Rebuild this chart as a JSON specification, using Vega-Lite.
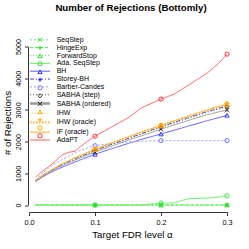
{
"$schema": "https://vega.github.io/schema/vega-lite/v6.json",
"width": 198, "height": 158.5,
"autosize": {"type": "none"},
"padding": {"left": 29, "top": 46.5, "right": 22, "bottom": 44},
"config": {
  "font": "Liberation Sans",
  "view": {"stroke": null},
  "axis": {"grid": false, "domainColor": "#333", "tickColor": "#333", "tickSize": 3.5, "labelFontSize": 7.3, "labelColor": "black", "labelFont": "Liberation Sans", "titleFont": "Liberation Sans", "titleFontSize": 9.7, "titleFontWeight": "normal", "titleColor": "black"},
  "legend": {"labelFont": "Liberation Sans", "labelColor": "black", "labelFontSize": 7, "padding": 0}
},
"title": {"text": "Number of Rejections (Bottomly)", "font": "Liberation Sans", "fontSize": 9.7, "fontWeight": "bold", "color": "black", "anchor": "middle", "frame": "group", "baseline": "alphabetic", "offset": 15.5, "dx": 3},
"data": {"values": [
{"a":0.01,"m":"SeqStep","v":0},{"a":0.1,"m":"SeqStep","v":0},{"a":0.2,"m":"SeqStep","v":0},{"a":0.3,"m":"SeqStep","v":0},
{"a":0.01,"m":"HingeExp","v":0},{"a":0.1,"m":"HingeExp","v":0},{"a":0.2,"m":"HingeExp","v":0},{"a":0.3,"m":"HingeExp","v":0},
{"a":0.01,"m":"ForwardStop","v":0},{"a":0.1,"m":"ForwardStop","v":0},{"a":0.2,"m":"ForwardStop","v":0},{"a":0.3,"m":"ForwardStop","v":0},
{"a":0.01,"m":"Ada. SeqStep","v":0},{"a":0.1,"m":"Ada. SeqStep","v":0},{"a":0.17,"m":"Ada. SeqStep","v":0},{"a":0.2,"m":"Ada. SeqStep","v":60},{"a":0.22,"m":"Ada. SeqStep","v":65},{"a":0.24,"m":"Ada. SeqStep","v":195},{"a":0.27,"m":"Ada. SeqStep","v":220},{"a":0.29,"m":"Ada. SeqStep","v":255},{"a":0.3,"m":"Ada. SeqStep","v":290},
{"a":0.01,"m":"BH","v":740},{"a":0.02,"m":"BH","v":880},{"a":0.03,"m":"BH","v":995},{"a":0.04,"m":"BH","v":1100},{"a":0.05,"m":"BH","v":1190},{"a":0.06,"m":"BH","v":1275},{"a":0.07,"m":"BH","v":1360},{"a":0.08,"m":"BH","v":1440},{"a":0.1,"m":"BH","v":1600},{"a":0.12,"m":"BH","v":1740},{"a":0.15,"m":"BH","v":1940},{"a":0.17,"m":"BH","v":2070},{"a":0.2,"m":"BH","v":2240},{"a":0.22,"m":"BH","v":2360},{"a":0.24,"m":"BH","v":2480},{"a":0.27,"m":"BH","v":2660},{"a":0.29,"m":"BH","v":2770},{"a":0.3,"m":"BH","v":2830},
{"a":0.01,"m":"Storey-BH","v":765},{"a":0.02,"m":"Storey-BH","v":915},{"a":0.03,"m":"Storey-BH","v":1045},{"a":0.04,"m":"Storey-BH","v":1165},{"a":0.05,"m":"Storey-BH","v":1270},{"a":0.06,"m":"Storey-BH","v":1365},{"a":0.07,"m":"Storey-BH","v":1460},{"a":0.08,"m":"Storey-BH","v":1545},{"a":0.1,"m":"Storey-BH","v":1720},{"a":0.12,"m":"Storey-BH","v":1880},{"a":0.15,"m":"Storey-BH","v":2100},{"a":0.17,"m":"Storey-BH","v":2250},{"a":0.2,"m":"Storey-BH","v":2470},{"a":0.22,"m":"Storey-BH","v":2610},{"a":0.24,"m":"Storey-BH","v":2750},{"a":0.27,"m":"Storey-BH","v":2950},{"a":0.29,"m":"Storey-BH","v":3070},{"a":0.3,"m":"Storey-BH","v":3120},
{"a":0.01,"m":"Barber-Candes","v":790},{"a":0.02,"m":"Barber-Candes","v":1000},{"a":0.03,"m":"Barber-Candes","v":1170},{"a":0.04,"m":"Barber-Candes","v":1310},{"a":0.05,"m":"Barber-Candes","v":1430},{"a":0.06,"m":"Barber-Candes","v":1540},{"a":0.07,"m":"Barber-Candes","v":1650},{"a":0.08,"m":"Barber-Candes","v":1740},{"a":0.1,"m":"Barber-Candes","v":1870},{"a":0.12,"m":"Barber-Candes","v":1930},{"a":0.15,"m":"Barber-Candes","v":1990},{"a":0.17,"m":"Barber-Candes","v":2010},{"a":0.2,"m":"Barber-Candes","v":2030},{"a":0.22,"m":"Barber-Candes","v":2030},{"a":0.24,"m":"Barber-Candes","v":2030},{"a":0.27,"m":"Barber-Candes","v":2030},{"a":0.29,"m":"Barber-Candes","v":2030},{"a":0.3,"m":"Barber-Candes","v":2030},
{"a":0.01,"m":"SABHA (step)","v":765},{"a":0.02,"m":"SABHA (step)","v":915},{"a":0.03,"m":"SABHA (step)","v":1040},{"a":0.04,"m":"SABHA (step)","v":1160},{"a":0.05,"m":"SABHA (step)","v":1265},{"a":0.06,"m":"SABHA (step)","v":1360},{"a":0.07,"m":"SABHA (step)","v":1455},{"a":0.08,"m":"SABHA (step)","v":1540},{"a":0.1,"m":"SABHA (step)","v":1710},{"a":0.12,"m":"SABHA (step)","v":1865},{"a":0.15,"m":"SABHA (step)","v":2085},{"a":0.17,"m":"SABHA (step)","v":2235},{"a":0.2,"m":"SABHA (step)","v":2450},{"a":0.22,"m":"SABHA (step)","v":2590},{"a":0.24,"m":"SABHA (step)","v":2725},{"a":0.27,"m":"SABHA (step)","v":2925},{"a":0.29,"m":"SABHA (step)","v":3045},{"a":0.3,"m":"SABHA (step)","v":3100},
{"a":0.01,"m":"SABHA (ordered)","v":755},{"a":0.02,"m":"SABHA (ordered)","v":900},{"a":0.03,"m":"SABHA (ordered)","v":1025},{"a":0.04,"m":"SABHA (ordered)","v":1140},{"a":0.05,"m":"SABHA (ordered)","v":1240},{"a":0.06,"m":"SABHA (ordered)","v":1330},{"a":0.07,"m":"SABHA (ordered)","v":1420},{"a":0.08,"m":"SABHA (ordered)","v":1500},{"a":0.1,"m":"SABHA (ordered)","v":1670},{"a":0.12,"m":"SABHA (ordered)","v":1820},{"a":0.15,"m":"SABHA (ordered)","v":2040},{"a":0.17,"m":"SABHA (ordered)","v":2180},{"a":0.2,"m":"SABHA (ordered)","v":2390},{"a":0.22,"m":"SABHA (ordered)","v":2530},{"a":0.24,"m":"SABHA (ordered)","v":2660},{"a":0.27,"m":"SABHA (ordered)","v":2850},{"a":0.29,"m":"SABHA (ordered)","v":2950},{"a":0.3,"m":"SABHA (ordered)","v":2990},
{"a":0.01,"m":"IHW","v":770},{"a":0.02,"m":"IHW","v":925},{"a":0.03,"m":"IHW","v":1055},{"a":0.04,"m":"IHW","v":1175},{"a":0.05,"m":"IHW","v":1285},{"a":0.06,"m":"IHW","v":1385},{"a":0.07,"m":"IHW","v":1480},{"a":0.08,"m":"IHW","v":1565},{"a":0.1,"m":"IHW","v":1740},{"a":0.12,"m":"IHW","v":1900},{"a":0.15,"m":"IHW","v":2125},{"a":0.17,"m":"IHW","v":2275},{"a":0.2,"m":"IHW","v":2490},{"a":0.22,"m":"IHW","v":2630},{"a":0.24,"m":"IHW","v":2770},{"a":0.27,"m":"IHW","v":2975},{"a":0.29,"m":"IHW","v":3095},{"a":0.3,"m":"IHW","v":3150},
{"a":0.01,"m":"IHW (oracle)","v":780},{"a":0.02,"m":"IHW (oracle)","v":935},{"a":0.03,"m":"IHW (oracle)","v":1065},{"a":0.04,"m":"IHW (oracle)","v":1190},{"a":0.05,"m":"IHW (oracle)","v":1300},{"a":0.06,"m":"IHW (oracle)","v":1400},{"a":0.07,"m":"IHW (oracle)","v":1500},{"a":0.08,"m":"IHW (oracle)","v":1590},{"a":0.1,"m":"IHW (oracle)","v":1770},{"a":0.12,"m":"IHW (oracle)","v":1930},{"a":0.15,"m":"IHW (oracle)","v":2160},{"a":0.17,"m":"IHW (oracle)","v":2310},{"a":0.2,"m":"IHW (oracle)","v":2530},{"a":0.22,"m":"IHW (oracle)","v":2670},{"a":0.24,"m":"IHW (oracle)","v":2810},{"a":0.27,"m":"IHW (oracle)","v":3010},{"a":0.29,"m":"IHW (oracle)","v":3140},{"a":0.3,"m":"IHW (oracle)","v":3210},
{"a":0.01,"m":"IF (oracle)","v":775},{"a":0.02,"m":"IF (oracle)","v":930},{"a":0.03,"m":"IF (oracle)","v":1060},{"a":0.04,"m":"IF (oracle)","v":1180},{"a":0.05,"m":"IF (oracle)","v":1295},{"a":0.06,"m":"IF (oracle)","v":1395},{"a":0.07,"m":"IF (oracle)","v":1490},{"a":0.08,"m":"IF (oracle)","v":1580},{"a":0.1,"m":"IF (oracle)","v":1755},{"a":0.12,"m":"IF (oracle)","v":1915},{"a":0.15,"m":"IF (oracle)","v":2145},{"a":0.17,"m":"IF (oracle)","v":2295},{"a":0.2,"m":"IF (oracle)","v":2510},{"a":0.22,"m":"IF (oracle)","v":2650},{"a":0.24,"m":"IF (oracle)","v":2790},{"a":0.27,"m":"IF (oracle)","v":2995},{"a":0.29,"m":"IF (oracle)","v":3120},{"a":0.3,"m":"IF (oracle)","v":3180},
{"a":0.01,"m":"AdaPT","v":880},{"a":0.02,"m":"AdaPT","v":1060},{"a":0.03,"m":"AdaPT","v":1210},{"a":0.04,"m":"AdaPT","v":1380},{"a":0.05,"m":"AdaPT","v":1580},{"a":0.06,"m":"AdaPT","v":1660},{"a":0.07,"m":"AdaPT","v":1700},{"a":0.08,"m":"AdaPT","v":1880},{"a":0.1,"m":"AdaPT","v":2170},{"a":0.12,"m":"AdaPT","v":2400},{"a":0.15,"m":"AdaPT","v":2750},{"a":0.17,"m":"AdaPT","v":3060},{"a":0.2,"m":"AdaPT","v":3340},{"a":0.22,"m":"AdaPT","v":3500},{"a":0.24,"m":"AdaPT","v":3760},{"a":0.27,"m":"AdaPT","v":4160},{"a":0.29,"m":"AdaPT","v":4520},{"a":0.3,"m":"AdaPT","v":4760}
]},
"encoding": {
  "x": {"field": "a", "type": "quantitative", "scale": {"domain": [0, 0.3], "nice": false, "zero": false},
    "axis": {"values": [0, 0.1, 0.2, 0.3], "format": ".1f", "offset": 7, "labelBaseline": "alphabetic", "labelPadding": 8.5, "labelFlush": false, "title": "Target FDR level α", "titleX": 103, "titleY": 25.5, "titleAlign": "center", "titleBaseline": "alphabetic"}},
  "y": {"field": "v", "type": "quantitative", "scale": {"domain": [0, 5000], "nice": false},
    "axis": {"values": [0, 1000, 2000, 3000, 4000, 5000], "format": "d", "offset": 1, "labelAngle": -90, "labelAlign": "center", "labelBaseline": "alphabetic", "labelPadding": 4, "labelFlush": false, "title": "# of Rejections", "titleX": -18, "titleY": 76, "titleAngle": -90, "titleAlign": "center", "titleBaseline": "alphabetic"}}
},
"layer": [
  {"mark": {"type": "line", "clip": false, "strokeWidth": 1},
   "encoding": {
     "color": {"field": "m", "type": "nominal",
       "scale": {"domain": ["SeqStep","HingeExp","ForwardStop","Ada. SeqStep","BH","Storey-BH","Barber-Candes","SABHA (step)","SABHA (ordered)","IHW","IHW (oracle)","IF (oracle)","AdaPT"],
                 "range": ["#77EE77","#44EE44","#66E066","#66EE66","#5B5BFF","#4444FF","#9D9DFF","#555555","#999999","#FFC86A","#FFC04C","#FFB02E","#FF5A5A"]},
       "legend": {"orient": "none", "legendX": 7.5, "legendY": -10.2, "title": null, "symbolType": "stroke", "symbolSize": 400, "symbolStrokeWidth": 1, "labelOffset": 13.2, "rowPadding": -0.15,
         "encode": {"symbols": {"update": {"strokeWidth": {"signal": "indexof(['SABHA (ordered)','IHW (oracle)'], datum.value) >= 0 ? 2.5 : 1"}}}}}},
     "strokeDash": {"field": "m", "type": "nominal",
       "scale": {"domain": ["SeqStep","HingeExp","ForwardStop","Ada. SeqStep","BH","Storey-BH","Barber-Candes","SABHA (step)","SABHA (ordered)","IHW","IHW (oracle)","IF (oracle)","AdaPT"],
                 "range": [[2,2],[3,2],[1,2],[1,0],[1,0],[4,2,1,2],[2,2],[1,2],[1,0],[1,1.5],[1.5,1.5],[1,0],[1,0]]},
       "legend": {"orient": "none", "legendX": 7.5, "legendY": -10.2, "title": null, "symbolType": "stroke", "symbolSize": 400, "labelOffset": 13.2, "rowPadding": -0.15}},
     "strokeWidth": {"condition": {"test": "datum.m === 'SABHA (ordered)' || datum.m === 'IHW (oracle)'", "value": 2.5}, "value": 1}
   }},
  {"transform": [{"filter": {"field": "a", "oneOf": [0.1, 0.2, 0.3]}}],
   "mark": {"type": "point", "filled": false, "size": 18, "strokeWidth": 1, "opacity": 1, "clip": false},
   "encoding": {
     "stroke": {"field": "m", "type": "nominal",
       "scale": {"range": ["#33DD33","#22DD22","#33DD33","#44DD44","#3333FF","#2222FF","#7777FF","#333333","#222222","#FFA500","#FFA500","#FFA500","#FF3333"]},
       "sort": null,
       "legend": {"orient": "none", "legendX": 7.5, "legendY": -10.2, "title": null, "symbolSize": 18, "symbolStrokeWidth": 1, "labelExpr": "' '", "labelOffset": 0, "rowPadding": -1.45}},
     "shape": {"field": "m", "type": "nominal",
       "scale": {"range": ["M-1,-1L1,1M-1,1L1,-1","M-1,0L1,0M0,-1L0,1","triangle-up","circle","triangle-up","M-1,0L1,0M0,-1L0,1","circle","diamond","M-1,-1L1,1M-1,1L1,-1","triangle-up","M-1,0L1,0M0,-1L0,1","circle","circle"]},
       "sort": null,
       "legend": {"orient": "none", "legendX": 7.5, "legendY": -10.2, "title": null, "symbolSize": 18, "symbolStrokeWidth": 1, "labelExpr": "' '", "labelOffset": 0, "rowPadding": -1.45}}
   }}
]
}
